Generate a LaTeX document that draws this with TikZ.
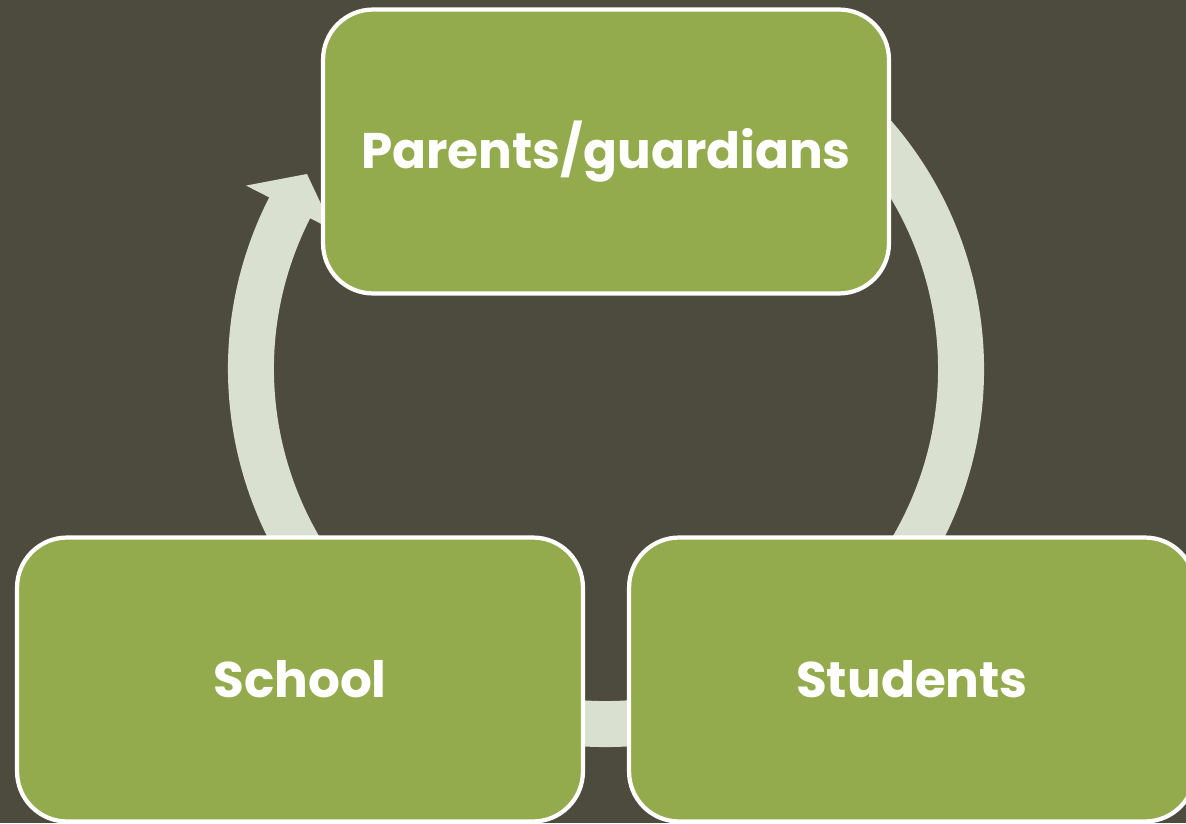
\documentclass[tikz,border=0pt]{standalone}
\usepackage{fontspec}
\setmainfont{Poppins}
\usetikzlibrary{calc}
\definecolor{bgdark}{RGB}{77,74,62}
\definecolor{boxgreen}{RGB}{147,170,77}
\definecolor{cyclegrey}{RGB}{218,224,207}

\begin{document}
\begin{tikzpicture}[x=0.02cm, y=0.02cm,
    stagebox/.style={draw=white, line width=2.4pt, fill=boxgreen, rounded corners=1cm,
      minimum width=11.32cm, minimum height=5.68cm, text=white,
      font=\fontsize{28.5}{34}\selectfont\bfseries}]
    % Background
    \fill[bgdark] (0,0) rectangle (1186,823);
    \useasboundingbox (0,0) rectangle (1186,823);

    % Cycle arrow behind the boxes (band and head in one path)
    \coordinate (c) at (606,454);
    \fill[cyclegrey] ($(c)+(60:378)$) arc[start angle=60, end angle=-207, radius=378]
      -- ($(c)+(153:404)$) -- ($(c)+(153:355)+(63:38)$) -- ($(c)+(153:306)$)
      -- ($(c)+(153:332)$) arc[start angle=-207, end angle=60, radius=332] -- cycle;

    % The three stages
    \node[stagebox] (parents) at (606,671.5) {Parents/guardians};
    \node[stagebox] (school) at (300,143.5) {School};
    \node[stagebox] (students) at (912,143.5) {Students};
\end{tikzpicture}
\end{document}
